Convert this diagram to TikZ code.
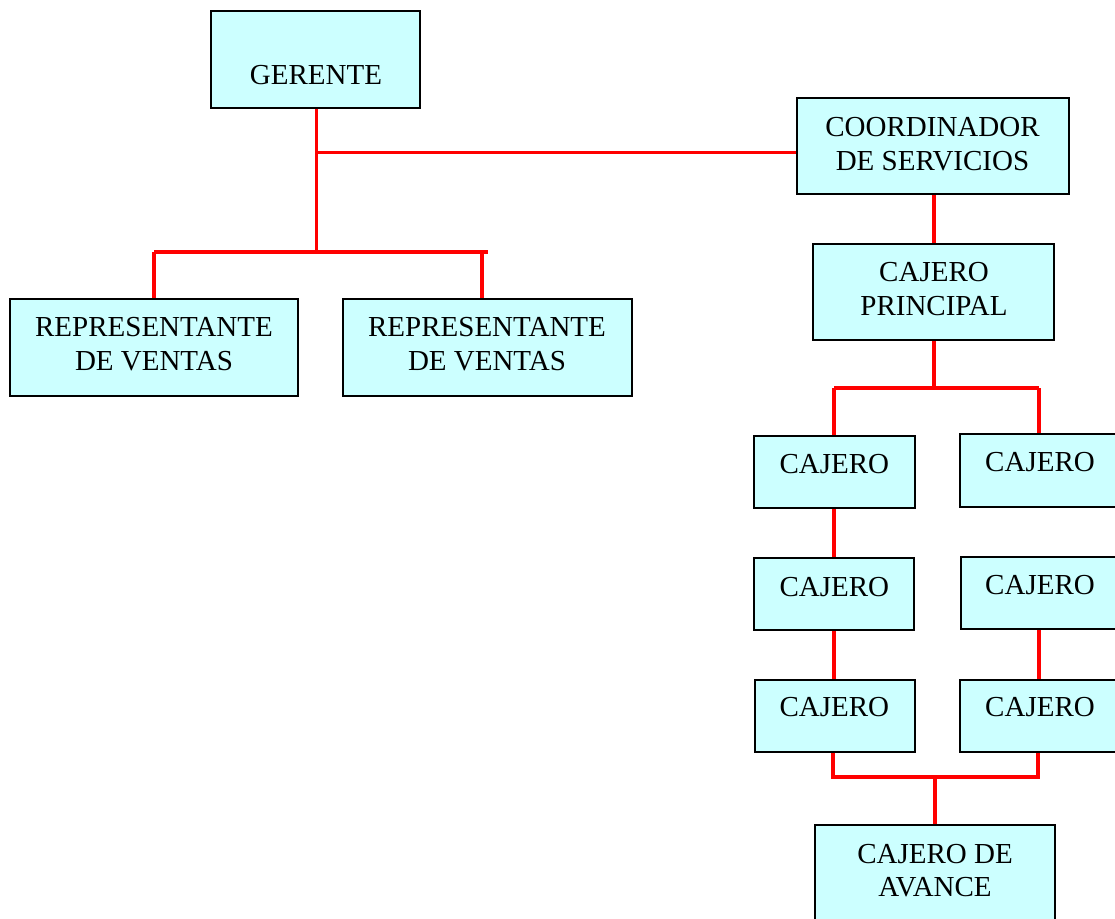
\documentclass[tikz,border=0pt]{standalone}
\usepackage{fontspec}
\setmainfont{Liberation Serif}
\definecolor{boxfill}{HTML}{CCFFFF}
\definecolor{linered}{HTML}{FF0000}
\begin{document}
\begin{tikzpicture}[x=0.5pt,y=-0.5pt,
  box/.style={draw=black, line width=1pt, fill=boxfill, rectangle, inner sep=0pt},
  lbl/.style={anchor=base, align=center, inner sep=0pt, font=\fontsize{14.5}{16.75}\selectfont},
  conn/.style={draw=linered, line width=1.9pt}]
\useasboundingbox (0,0) rectangle (1115,918);
\clip (0,0) rectangle (1115,918);
% boxes
\node[box, minimum width=209*0.5pt, minimum height=96.7*0.5pt] (g) at (315.5,59.3) {};
\node[box, minimum width=272*0.5pt, minimum height=96*0.5pt] (c) at (933,146.3) {};
\node[box, minimum width=288*0.5pt, minimum height=97*0.5pt] (r1) at (154,347.5) {};
\node[box, minimum width=289*0.5pt, minimum height=97*0.5pt] (r2) at (487.5,347.5) {};
\node[box, minimum width=241*0.5pt, minimum height=96.5*0.5pt] (cp) at (933.5,292.2) {};
\node[box, minimum width=161*0.5pt, minimum height=72*0.5pt] (c1l) at (834.5,472) {};
\node[box, minimum width=161*0.5pt, minimum height=72.4*0.5pt] (c1r) at (1040,470.5) {};
\node[box, minimum width=160.5*0.5pt, minimum height=72.5*0.5pt] (c2l) at (833.8,594.2) {};
\node[box, minimum width=161*0.5pt, minimum height=72*0.5pt] (c2r) at (1041,593) {};
\node[box, minimum width=160.5*0.5pt, minimum height=72*0.5pt] (c3l) at (834.8,715.6) {};
\node[box, minimum width=161*0.5pt, minimum height=72*0.5pt] (c3r) at (1040,715.6) {};
\node[box, minimum width=240*0.5pt, minimum height=96*0.5pt] (ca) at (935,873) {};
% texts (base = baseline of the last line)
\node[lbl] (tg) at (316,84.3) {GERENTE};
\node[lbl] (tc) at (932.5,170) {COORDINADOR\\DE SERVICIOS};
\node[lbl] (tr1) at (154,370) {REPRESENTANTE\\DE VENTAS};
\node[lbl] (tr2) at (487,370) {REPRESENTANTE\\DE VENTAS};
\node[lbl] (tcp) at (934,315.3) {CAJERO\\PRINCIPAL};
\node[lbl] (t1l) at (834.3,473) {CAJERO};
\node[lbl] (t1r) at (1040,471.7) {CAJERO};
\node[lbl] (t2l) at (834.3,596.7) {CAJERO};
\node[lbl] (t2r) at (1040,594.3) {CAJERO};
\node[lbl] (t3l) at (834.3,716.7) {CAJERO};
\node[lbl] (t3r) at (1040,716.7) {CAJERO};
\node[lbl] (tca) at (935,896.7) {CAJERO DE\\AVANCE};
% junction coordinates
\coordinate (hg) at (316.5,152.5);
\coordinate (jr) at (316.5,252);
\coordinate (jrL) at (154,252);
\coordinate (jrR) at (488,252);
\coordinate (r2t) at (482,252);
\coordinate (bL) at (834,388);
\coordinate (bR) at (1039,388);
\coordinate (dL) at (833,776.7);
\coordinate (dR) at (1038,776.7);
% connectors
\draw[conn] (g.south -| jr) -- (jr);
\draw[conn] (hg) -- (hg -| c.west);
\draw[conn] (jrL) -- (jrR);
\draw[conn] (r1.north) -- (jrL);
\draw[conn] (r2t) -- (r2t |- r2.north);
\draw[conn] (c.south -| 934,0) -- (934,0 |- cp.north);
\draw[conn] (cp.south -| 934,0) -- (934,0 |- bL);
\draw[conn] (bL) -- (bR);
\draw[conn] (bL) -- (bL |- c1l.north);
\draw[conn] (bR) -- (bR |- c1r.north);
\draw[conn] (c1l.south -| bL) -- (bL |- c2l.north);
\draw[conn] (c2l.south -| bL) -- (bL |- c3l.north);
\draw[conn] (c2r.south -| bR) -- (bR |- c3r.north);
\draw[conn] (c3l.south -| dL) -- (dL) -- (dR) -- (dR |- c3r.south);
\draw[conn] (ca.north) -- (ca.north |- dL);
\end{tikzpicture}
\end{document}
